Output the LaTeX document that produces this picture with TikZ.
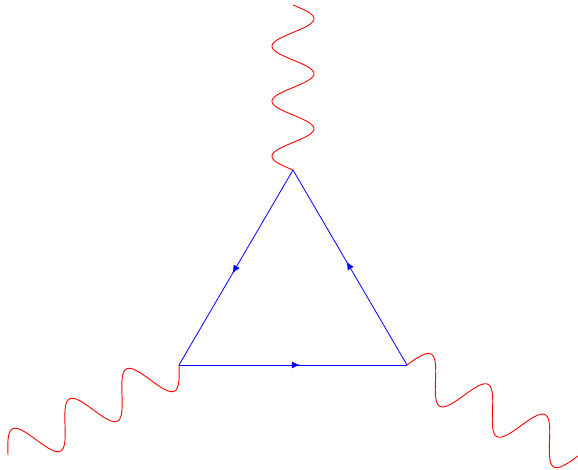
\documentclass[tikz,border=0pt]{standalone}
\usepackage{tikz}
\usetikzlibrary{calc,decorations.markings,arrows.meta}

\begin{document}
\begin{tikzpicture}[x=1pt, y=-1pt,
  fermion/.style={blue, line width=0.8pt,
    postaction={decorate},
    decoration={markings, mark=at position 0.53 with {\arrow{Latex[length=8pt,width=7pt]}}}},
  photon/.style={red, line width=0.9pt,
    to path={let \p1=(\tikztostart), \p2=(\tikztotarget),
      \n1={veclen(\x2-\x1,\y2-\y1)} in
      plot[variable=\t, domain=0:1, samples=180, smooth]
      ({\x1+\t*(\x2-\x1)-21*sin(1080*\t)*(\y2-\y1)/\n1},
       {\y1+\t*(\y2-\y1)+21*sin(1080*\t)*(\x2-\x1)/\n1})}}]

\useasboundingbox (0,0) rectangle (578,470);

% ============================
% Loop vertices
% ============================
\coordinate (vt) at (293,170);
\coordinate (vl) at (179,365);
\coordinate (vr) at (407,365);

% ============================
% Outer photon ends
% ============================
\coordinate (gt) at (293,5);
\coordinate (gl) at (8,455);
\coordinate (gr) at (578,456);

% ============================
% Fermion loop
% ============================
\draw[fermion] (vt) -- (vl);
\draw[fermion] (vl) -- (vr);
\draw[fermion] (vr) -- (vt);

% ============================
% Photons
% ============================
\draw[photon] (vt) to (gt);
\draw[photon] (vl) to (gl);
\draw[photon] (vr) to (gr);

\end{tikzpicture}
\end{document}
